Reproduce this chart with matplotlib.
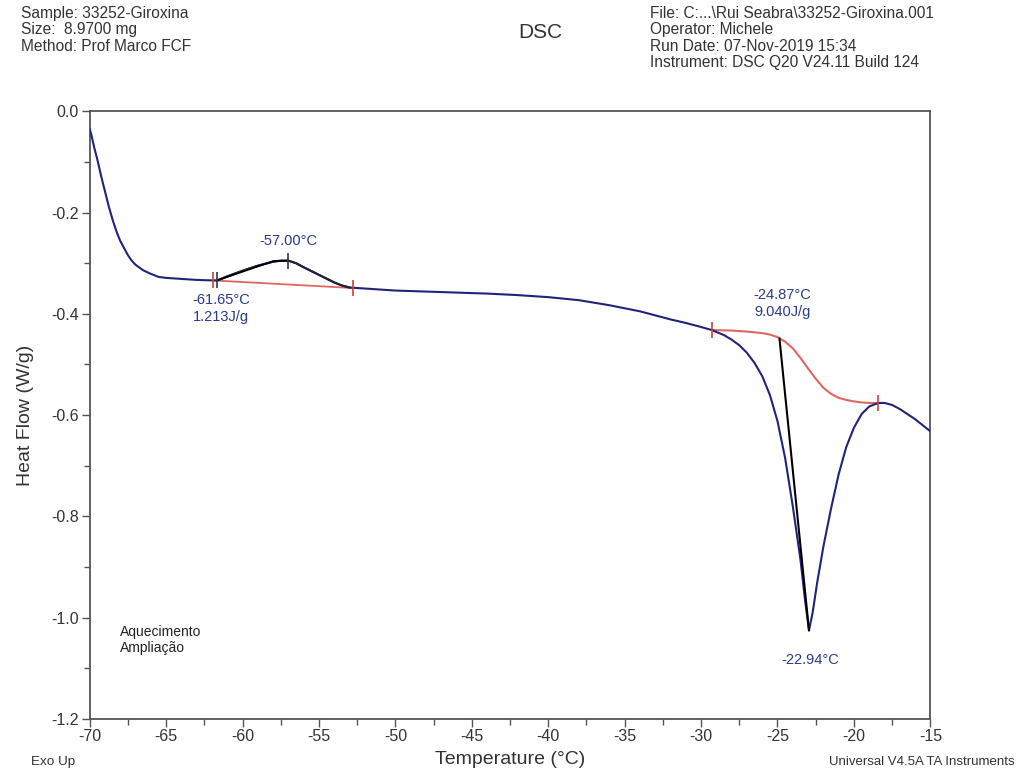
import matplotlib.pyplot as plt
from matplotlib.ticker import MultipleLocator, FormatStrFormatter

plt.rcParams["font.family"] = ["Liberation Sans", "DejaVu Sans"]

# Curva DSC
temp = [-70, -69.9, -69.7, -69.5, -69.25, -69, -68.75, -68.5, -68.25, -68, -67.75, -67.5, -67.25,
        -67, -66.5, -66, -65.5, -65, -64, -63, -62, -61.65, -61, -60, -59, -58, -57.5, -57,
        -56.5, -56, -55, -54, -53.5, -53, -52, -50, -48, -46, -44, -42, -40, -38, -36, -34,
        -32, -31, -30, -29.3, -28.5, -28, -27.5, -27, -26.5, -26, -25.5, -25, -24.5, -24,
        -23.5, -23.2, -22.94, -22.7, -22.4, -22, -21.5, -21, -20.5, -20, -19.5, -19, -18.4,
        -18, -17.5, -17, -16.5, -16, -15.5, -15]
heat_flow = [-0.035, -0.045, -0.072, -0.095, -0.128, -0.158, -0.188, -0.214, -0.237, -0.256,
             -0.270, -0.284, -0.295, -0.303, -0.314, -0.321, -0.327, -0.329, -0.331, -0.333,
             -0.334, -0.334, -0.326, -0.315, -0.305, -0.297, -0.295, -0.295, -0.300, -0.308,
             -0.323, -0.338, -0.344, -0.348, -0.350, -0.354, -0.356, -0.358, -0.360, -0.363,
             -0.367, -0.373, -0.383, -0.395, -0.411, -0.418, -0.426, -0.432, -0.442, -0.451,
             -0.462, -0.477, -0.497, -0.523, -0.560, -0.612, -0.685, -0.780, -0.885, -0.965,
             -1.025, -0.990, -0.930, -0.860, -0.785, -0.717, -0.663, -0.625, -0.598, -0.583,
             -0.576, -0.576, -0.580, -0.588, -0.598, -0.608, -0.620, -0.632]

# Linhas de base (integração)
base1_t = [-61.9, -52.8]
base1_hf = [-0.334, -0.349]
base2_t = [-29.3, -28, -27, -26, -25.5, -25, -24.5, -24, -23.5, -23, -22.5, -22, -21.5, -21,
           -20.5, -20, -19.5, -19, -18.4]
base2_hf = [-0.432, -0.433, -0.435, -0.438, -0.441, -0.446, -0.455, -0.468, -0.487, -0.508,
            -0.528, -0.546, -0.558, -0.566, -0.570, -0.573, -0.575, -0.576, -0.576]

# Linhas pretas e marcas
onset1 = (-61.65, -0.334)
peak1 = (-57.00, -0.295)
onset2 = (-24.87, -0.449)
peak2 = (-22.94, -1.025)
red_marks_t = [-61.9, -52.8, -29.3, -18.4]
red_marks_hf = [-0.334, -0.349, -0.432, -0.576]

navy = "#23237a"
red = "#e06666"
txt_blue = "#2b3a8c"
gray = "#555555"

fig = plt.figure(figsize=(10.19, 7.73), dpi=100)
ax = fig.add_axes([0.088, 0.070, 0.825, 0.786])

ax.plot(temp, heat_flow, color=navy, lw=1.5, zorder=3)
# trecho do pico 1 em preto
seg = [(t, h) for t, h in zip(temp, heat_flow) if -61.65 <= t <= -53]
ax.plot([s[0] for s in seg], [s[1] for s in seg], color="#222233", lw=1.5, zorder=4)
ax.plot(base1_t, base1_hf, color=red, lw=1.3, zorder=2)
ax.plot(base2_t, base2_hf, color=red, lw=1.5, zorder=2)
ax.plot([onset1[0], -58.0, peak1[0]], [onset1[1], -0.296, peak1[1]], color="black", lw=1.2, zorder=5)
ax.plot([onset2[0], peak2[0]], [onset2[1], peak2[1]], color="black", lw=1.5, zorder=5)
ax.plot(red_marks_t, red_marks_hf, ls="none", marker="|", ms=12, mew=1.2, color="#d04040", zorder=6)
ax.plot([onset1[0], peak1[0]], [onset1[1], peak1[1]], ls="none", marker="|", ms=12, mew=1.2,
        color="#333344", zorder=6)

ax.set_xlim(-70, -15)
ax.set_ylim(-1.2, 0.0)
ax.xaxis.set_major_locator(MultipleLocator(5))
ax.xaxis.set_minor_locator(MultipleLocator(2.5))
ax.yaxis.set_major_locator(MultipleLocator(0.2))
ax.yaxis.set_minor_locator(MultipleLocator(0.1))
ax.yaxis.set_major_formatter(FormatStrFormatter("%.1f"))
ax.xaxis.set_major_formatter(FormatStrFormatter("%d"))
ax.tick_params(which="both", direction="out", colors=gray, labelcolor="#333333", labelsize=11.5)
ax.tick_params(which="major", length=6, width=1)
ax.tick_params(which="minor", length=4, width=1)
ax.tick_params(axis="x", pad=1)
ax.tick_params(axis="y", pad=2)
for s in ax.spines.values():
    s.set_color(gray)
    s.set_linewidth(1.3)

ax.set_ylabel("Heat Flow (W/g)", fontsize=14, color="#333333", labelpad=12)
ax.set_xlabel("Temperature (°C)", fontsize=14, color="#333333", labelpad=5)

# Anotações
ax.text(peak1[0], peak1[1] + 0.025, "-57.00°C", color=txt_blue, fontsize=10.5, ha="center", va="bottom")
ax.text(-61.4, onset1[1] - 0.025, "-61.65°C\n1.213J/g", color=txt_blue, fontsize=10.5,
        ha="center", va="top", linespacing=1.25)
ax.text(-24.67, -0.41, "-24.87°C\n9.040J/g", color=txt_blue, fontsize=10.5, ha="center", va="bottom",
        linespacing=1.25)
ax.text(peak2[0] + 0.1, peak2[1] - 0.045, "-22.94°C", color=txt_blue, fontsize=10.5, ha="center", va="top")
ax.text(-68.05, -1.015, "Aquecimento\nAmpliação", color="#222222", fontsize=10, ha="left", va="top",
        linespacing=1.15)

# Cabeçalho
fig.text(0.021, 0.992, "Sample: 33252-Giroxina\nSize:  8.9700 mg\nMethod: Prof Marco FCF",
         fontsize=11.2, color="#333333", ha="left", va="top", linespacing=1.1)
fig.text(0.638, 0.992, "File: C:...\\Rui Seabra\\33252-Giroxina.001\nOperator: Michele\n"
         "Run Date: 07-Nov-2019 15:34\nInstrument: DSC Q20 V24.11 Build 124",
         fontsize=11.2, color="#333333", ha="left", va="top", linespacing=1.1)
fig.text(0.530, 0.958, "DSC", fontsize=15, color="#333333", ha="center", va="center")
fig.text(0.030, 0.014, "Exo Up", fontsize=9.7, color="#333333", ha="left", va="center")
fig.text(0.996, 0.014, "Universal V4.5A TA Instruments", fontsize=9.5, color="#333333",
         ha="right", va="center")

plt.savefig("out.png", dpi=100)
